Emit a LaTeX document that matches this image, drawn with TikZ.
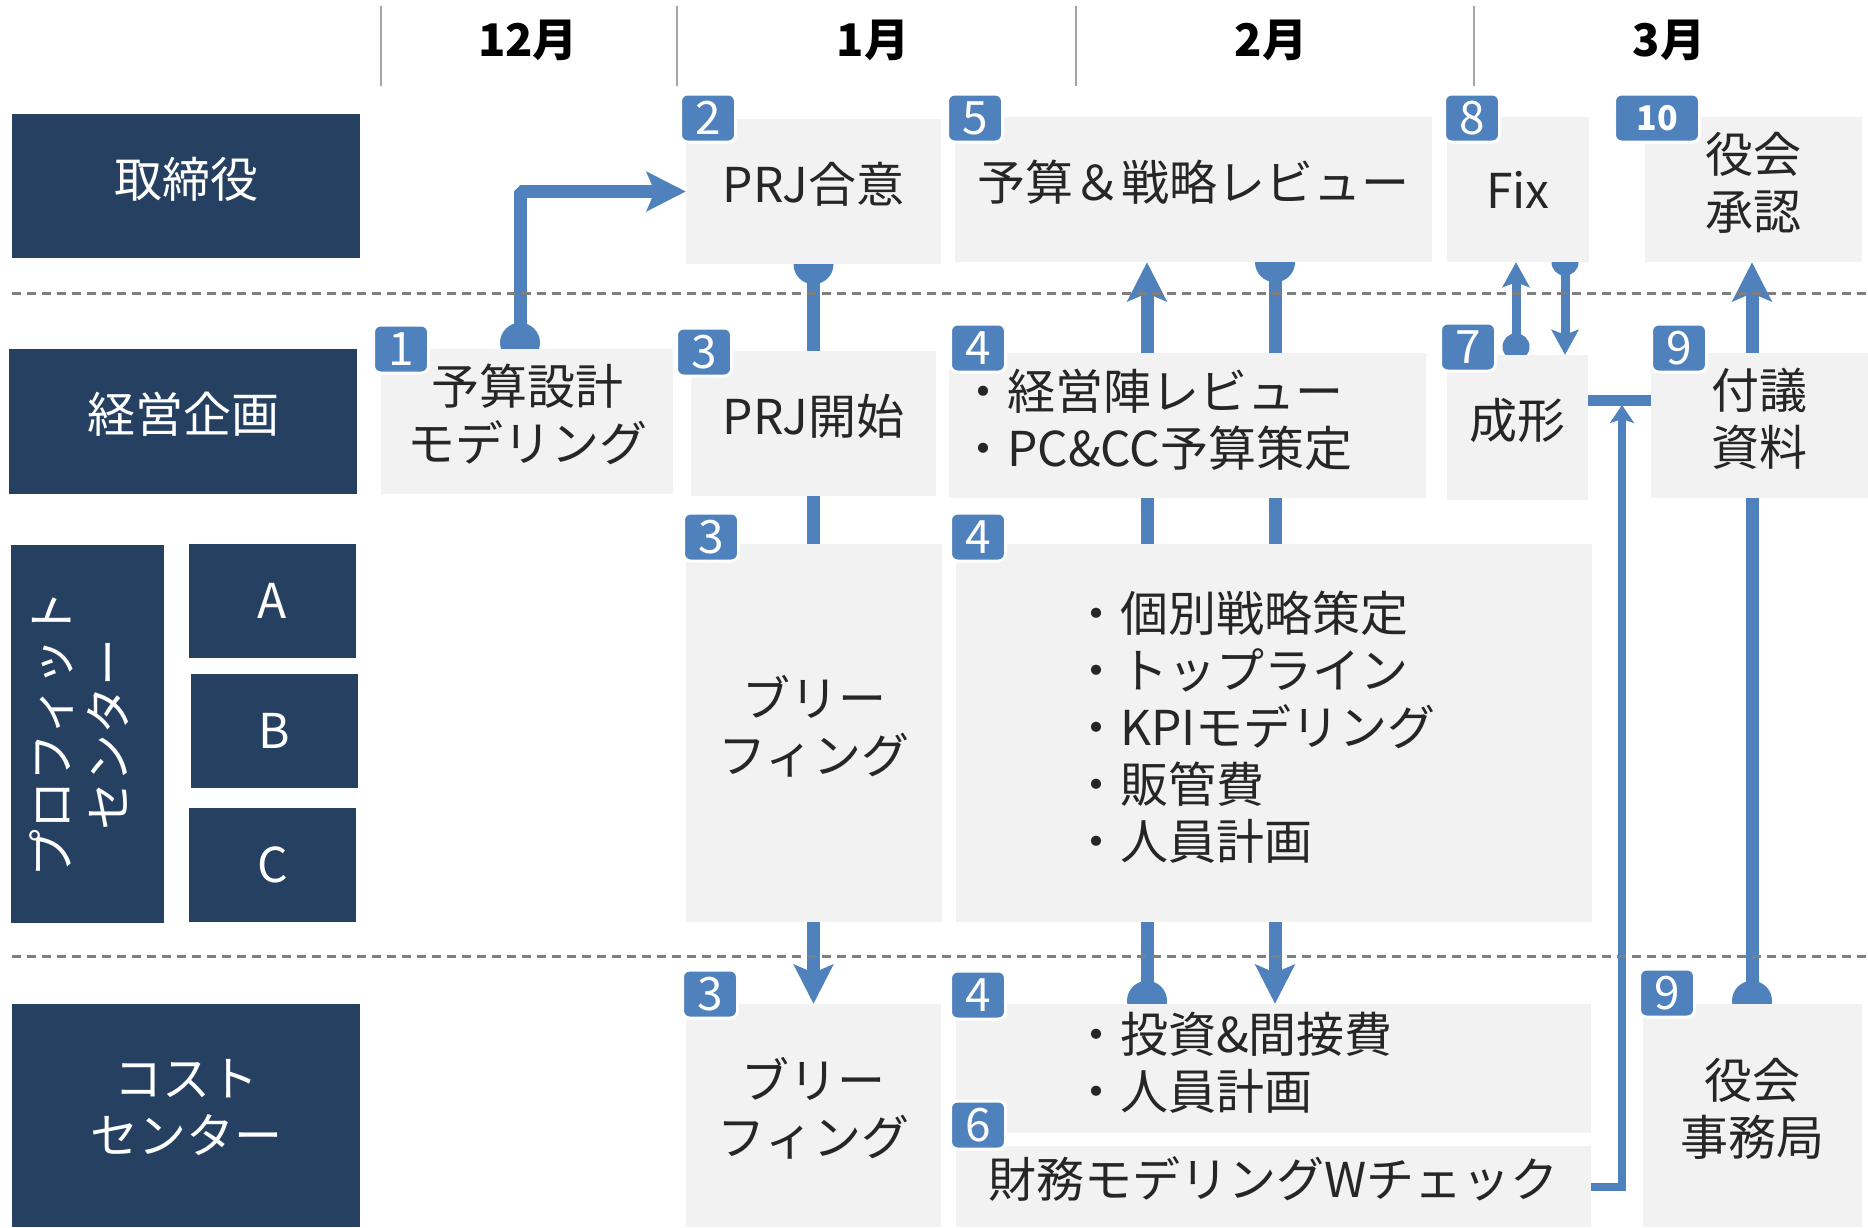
\documentclass[tikz,border=0pt]{standalone}
\usepackage{fontspec}
\setmainfont{Noto Sans CJK JP}
\usetikzlibrary{arrows.meta,calc}
\definecolor{navy}{HTML}{264061}
\definecolor{boxgray}{HTML}{F2F2F2}
\definecolor{accent}{HTML}{4F81BD}
\definecolor{txt}{HTML}{262626}
\definecolor{sepgray}{HTML}{7F7F7F}
\definecolor{mgray}{HTML}{A6A6A6}
\pgfdeclarelayer{bg}
\pgfsetlayers{bg,main}
\newcommand\mkbox[7]{\node[#1, minimum width={#5-#3}, minimum height={#6-#4}] (#2) at ({(#3+#5)/2},{(#4+#6)/2}) {#7};}
\tikzset{
  hdr/.style={fill=navy, text=white, inner sep=0pt, text depth=18pt, font=\fontsize{48}{57}\selectfont, align=center},
  gbox/.style={fill=boxgray, text=txt, inner sep=0pt, text depth=18pt, font=\fontsize{48}{57}\selectfont, align=center},
  latin/.style={text depth=0pt},
  blist/.style={gbox, align=left, text depth={}, text height=29pt},
  badge/.style={fill=accent, draw=white, line width=3pt, rounded corners=7pt, text=white,
    minimum width=55pt, minimum height=48pt, inner sep=0pt, font=\fontsize{46}{50}\selectfont},
  month/.style={text=black, font=\fontsize{45}{50}\selectfont\bfseries},
  monthline/.style={draw=mgray, line width=2pt},
  sepline/.style={draw=sepgray, line width=3pt, dash pattern=on 9pt off 6pt},
  bigtip/.tip={Stealth[length=39pt,width=39pt,inset=8pt]},
  smalltip/.tip={Stealth[length=25pt,width=27pt,inset=5pt]},
  tinytip/.tip={Stealth[length=18pt,width=24pt,inset=4pt]},
  conn/.style={draw=accent, line width=13pt, line join=bevel},
  conns/.style={draw=accent, line width=9pt},
  connt/.style={draw=accent, line width=8pt},
}
\begin{document}
\begin{tikzpicture}[x=1pt,y=-1pt]
\useasboundingbox (0,0) rectangle (1868,1227);
% month header
\draw[monthline] (381,6) -- (381,86);
\draw[monthline] (677,6) -- (677,86);
\draw[monthline] (1076,6) -- (1076,86);
\draw[monthline] (1474,6) -- (1474,86);
\node[month] (m12) at (528,40) {12月};
\node[month] (m1) at (873,40) {1月};
\node[month] (m2) at (1271,40) {2月};
\node[month] (m3) at (1669,40) {3月};
% left headers
\mkbox{hdr}{hTori}{12}{114}{360}{258}{取締役}
\mkbox{hdr}{hKei}{9}{349}{357}{494}{経営企画}
\node[hdr, rotate=90, minimum width=378pt, minimum height=153pt] (hPro) at (87.5,734) {プロフィット\\センター};
\mkbox{hdr, latin}{hA}{189}{544}{356}{658}{A}
\mkbox{hdr, latin}{hB}{191}{674}{358}{788}{B}
\mkbox{hdr, latin}{hC}{189}{808}{356}{922}{C}
\mkbox{hdr}{hCost}{12}{1004}{360}{1227}{コスト\\センター}
% row 1
\mkbox{gbox}{g2}{686}{119}{941}{264}{PRJ合意}
\mkbox{gbox}{g5}{955}{117}{1432}{262}{予算＆戦略レビュー}
\mkbox{gbox, latin}{g8}{1447}{117}{1589}{262}{Fix}
\mkbox{gbox}{g10}{1645}{117}{1862}{262}{役会\\承認}
% row 2
\mkbox{gbox}{g1}{381}{349}{673}{494}{予算設計\\モデリング}
\mkbox{gbox}{g3a}{691}{351}{936}{496}{PRJ開始}
\mkbox{blist, text width=457pt}{g4a}{949}{353}{1426}{498}{・経営陣レビュー\\・PC\&CC予算策定}
\mkbox{gbox}{g7}{1447}{355}{1588}{500}{成形}
\mkbox{gbox}{g9a}{1651}{353}{1868}{498}{付議\\資料}
% row 3
\mkbox{gbox}{g3b}{686}{544}{942}{922}{ブリー\\フィング}
\mkbox{blist, text width=404pt}{g4b}{956}{544}{1592}{922}{・個別戦略策定\\・トップライン\\・KPIモデリング\\・販管費\\・人員計画}
% row 4
\mkbox{gbox}{g3c}{686}{1004}{941}{1227}{ブリー\\フィング}
\mkbox{blist, text width=403pt}{g4c}{956}{1004}{1591}{1133}{・投資\&間接費\\・人員計画}
\mkbox{gbox}{g6}{956}{1146}{1591}{1227}{財務モデリングWチェック}
\mkbox{gbox}{g9b}{1643}{1004}{1862}{1227}{役会\\事務局}
% badges
\node[badge] (b2) at (708,118) {2};
\node[badge] (b5) at (975,118) {5};
\node[badge] (b8) at (1472,118) {8};
\node[badge, minimum width=85pt, font=\fontsize{34}{40}\selectfont\bfseries] (b10) at (1657,118) {10};
\node[badge] (b1) at (401,349) {1};
\node[badge] (b3a) at (704,352) {3};
\node[badge] (b4a) at (978,348) {4};
\node[badge] (b7) at (1468,347) {7};
\node[badge] (b9a) at (1679,348) {9};
\node[badge] (b3b) at (711,537) {3};
\node[badge] (b4b) at (978,537) {4};
\node[badge] (b3c) at (710,994) {3};
\node[badge] (b4c) at (978,995) {4};
\node[badge] (b6) at (978,1125) {6};
\node[badge] (b9b) at (1667,993) {9};
% connectors
\begin{pgfonlayer}{bg}
\coordinate (xa) at (520,0);
\coordinate (x3) at (1147,0);
\coordinate (x4) at (1275,0);
\coordinate (x5) at (1516,0);
\coordinate (x6) at (1565,0);
\coordinate (x7) at (1752,0);
\coordinate (x8) at (1622,0);
\coordinate (ybar) at (0,400);
\coordinate (ybarb) at (0,405);
% 1 -> 2
\fill[accent] ($(xa |- g1.north)+(0,-6)$) circle (20pt);
\draw[conn, -bigtip] (xa |- g1.north) -- (xa |- g2.west) -- (g2.west);
% 2 -> 3
\fill[accent] (g2.south) circle (20pt);
\draw[conn, -bigtip] (g2.south) -- (g3c.north);
% 4 -> 5
\fill[accent] ($(x3 |- g4c.north)+(0,-3)$) circle (20pt);
\draw[conn, -bigtip] (x3 |- g4c.north) -- (x3 |- g5.south);
% 5 -> 4
\fill[accent] (x4 |- g5.south) circle (20pt);
\draw[conn, -bigtip] (x4 |- g5.south) -- (x4 |- g4c.north);
% 7 <-> 8
\fill[accent] ($(x5 |- g7.north)+(0,-8)$) circle (13.5pt);
\draw[conns, -smalltip] (x5 |- g7.north) -- (x5 |- g8.south);
\fill[accent] (x6 |- g8.south) circle (13.5pt);
\draw[conns, -smalltip] (x6 |- g8.south) -- (x6 |- g7.north);
% 9 -> 10
\fill[accent] ($(x7 |- g9b.north)+(0,-3)$) circle (20pt);
\draw[conn, -bigtip] (x7 |- g9b.north) -- (x7 |- g10.south);
% 6 -> bar
\draw[draw=accent, line width=11pt] (g7.east |- ybar) -- (g9a.west |- ybar);
\draw[connt, -tinytip] (g6.east) -- (x8 |- g6.east) -- (x8 |- ybarb);
\end{pgfonlayer}
% separators
\draw[sepline] (12,293) -- (1868,293);
\draw[sepline] (12,956) -- (1868,956);
\end{tikzpicture}
\end{document}
